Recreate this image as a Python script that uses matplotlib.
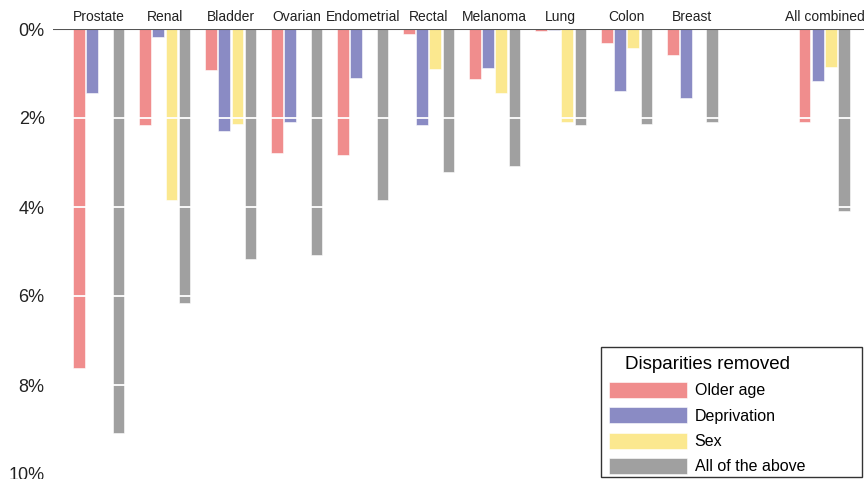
import numpy as np
import matplotlib.pyplot as plt
from matplotlib.patches import Rectangle

plt.rcParams['font.family'] = ['Liberation Sans', 'DejaVu Sans']

cancers = ['Prostate', 'Renal', 'Bladder', 'Ovarian', 'Endometrial', 'Rectal',
           'Melanoma', 'Lung', 'Colon', 'Breast', '', 'All combined']

# percentage reduction in the gap when each disparity is removed (None = not applicable)
older_age = [7.62, 2.16, 0.92, 2.79, 2.83, 0.11, 1.12, 0.05, 0.31, 0.58, None, 2.09]
deprivation = [1.44, 0.18, 2.29, 2.09, 1.10, 2.16, 0.88, 0.03, 1.39, 1.55, None, 1.17]
sex = [None, 3.84, 2.13, None, None, 0.90, 1.44, 2.09, 0.43, None, None, 0.85]
all_above = [9.08, 6.16, 5.17, 5.08, 3.84, 3.21, 3.08, 2.16, 2.13, 2.09, None, 4.09]

series = [('Older age', older_age, '#F08D8D'),
          ('Deprivation', deprivation, '#8A8BC4'),
          ('Sex', sex, '#FBE88F'),
          ('All of the above', all_above, '#A0A0A0')]

fig = plt.figure(figsize=(8.64, 4.79), dpi=100)
ax = fig.add_axes([53 / 864, 1 - 474 / 479, 1 - 53 / 864, (474 - 29) / 479])

slots = 5
for j, (name, vals, col) in enumerate(series):
    xs = [i * slots + j for i, v in enumerate(vals) if v is not None]
    hs = [v for v in vals if v is not None]
    ax.bar(xs, hs, width=0.88, color=col, edgecolor='white', linewidth=0.4,
           label=name, zorder=2)

# white lines cutting across the bars
for g in [2, 4, 6, 8]:
    ax.axhline(g, color='white', linewidth=1.3, zorder=3)
ax.axhline(0, color='#555555', linewidth=1.5, zorder=4)

for i, name in enumerate(cancers):
    if name:
        ax.text(i * slots + 1.5, -0.12, name, ha='center', va='bottom',
                fontsize=10, color='#222222', clip_on=False)

ax.set_xlim(-1.97, 59.5)
ax.set_ylim(10, 0)
ax.set_yticks([0, 2, 4, 6, 8, 10])
ax.set_yticklabels(['0%', '2%', '4%', '6%', '8%', '10%'], fontsize=13, color='#222222')
ax.tick_params(axis='y', length=0, pad=6)
ax.set_xticks([])
for s in ax.spines.values():
    s.set_visible(False)

# legend box drawn separately so it can be wider than its contents
ax.add_patch(Rectangle((601 / 864, 2 / 479), 261 / 864, 130 / 479,
                       transform=fig.transFigure, facecolor='white',
                       edgecolor='#333333', linewidth=1.0, zorder=5, clip_on=False))
leg = ax.legend(title='Disparities removed', loc='upper left',
                bbox_to_anchor=(606 / 864, 1 - 353 / 479), bbox_transform=fig.transFigure,
                borderaxespad=0, fontsize=11.5, title_fontsize=13.5,
                handlelength=4.9, handleheight=1.15, labelspacing=0.56,
                frameon=False, borderpad=0.2, handletextpad=0.45)
leg.set_zorder(6)

fig.savefig('out.png', dpi=100)
plt.close(fig)
